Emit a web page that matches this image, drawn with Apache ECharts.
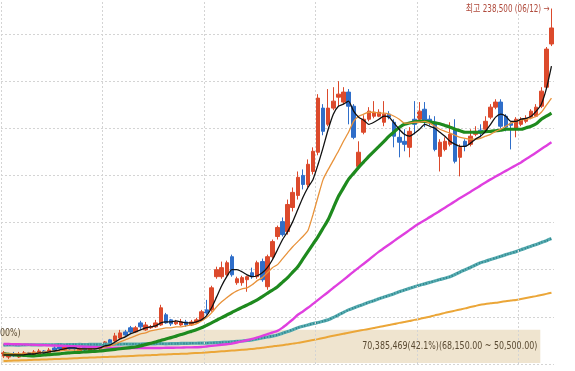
<!DOCTYPE html>
<html><head><meta charset="utf-8">
<script src="https://cdn.jsdelivr.net/npm/echarts@6/dist/echarts.min.js"></script>
<style>html,body{margin:0;padding:0;background:#fff;overflow:hidden}#c{width:575px;height:371px}</style>
</head><body><div id="c"></div>
<script>
// prices in thousand won: [open, close, low, high]
const ohlc = [
[54.3,55.9,53.2,56.9],[53.7,55.3,52.7,55.9],[55.3,54.3,53.7,56.4],[53.7,55.3,53.2,56.4],[54.3,55.9,53.7,56.9],
[55.9,54.8,53.7,56.4],[54.8,56.4,54.3,57.4],[55.3,56.9,54.8,58.0],[56.9,55.9,54.8,57.4],[55.9,57.4,55.3,58.5],
[58.5,57.4,56.4,59.6],[59.0,58.0,56.9,60.1],[57.4,59.0,56.9,60.1],[59.6,58.0,57.4,60.1],[59.0,58.0,56.9,60.1],
[56.9,58.5,56.4,59.0],[59.0,57.4,56.4,59.6],[56.9,58.5,56.4,59.0],[59.0,58.0,56.9,59.6],[58.0,59.6,57.4,60.1],
[59.0,61.7,58.5,62.2],[62.8,61.2,60.1,63.3],[62.2,64.9,61.7,66.5],[63.8,66.5,63.3,68.1],[67.0,65.4,64.4,68.1],
[69.2,67.0,66.0,70.2],[67.0,69.2,66.5,70.2],[71.8,69.7,68.6,72.9],[68.1,70.7,67.6,72.3],[69.2,69.7,68.6,70.7],
[69.7,71.8,69.2,73.4],[70.7,79.8,70.2,81.4],[76.1,71.8,71.3,77.1],[73.4,71.3,70.2,73.9],[71.3,72.3,70.7,73.4],
[70.7,72.3,70.2,73.9],[72.3,70.7,69.7,73.4],[70.7,72.3,70.2,73.4],[71.8,73.4,71.3,74.5],[73.4,77.7,72.9,78.7],
[78.7,77.1,76.1,84.0],[78.7,90.4,77.7,91.5],[96.3,100.0,95.2,101.6],[96.3,101.1,95.2,104.3],[97.3,103.7,96.8,104.8],
[106.9,97.3,96.3,108.0],[93.1,95.2,92.0,96.3],[93.1,95.8,91.5,96.8],[94.7,96.3,88.3,96.8],[98.4,96.3,95.2,101.1],
[96.3,103.7,95.2,104.8],[104.3,94.7,93.6,105.9],[91.0,106.9,89.4,108.0],[106.9,114.9,105.9,116.0],[117.6,122.4,116.0,123.4],
[125.5,118.6,117.6,127.7],[120.2,134.6,118.6,137.2],[133.0,141.0,130.9,143.6],[139.4,149.0,137.2,152.1],[150.0,145.2,142.6,153.2],
[145.2,155.9,143.6,158.5],[152.1,162.8,150.5,164.9],[162.3,191.0,160.7,193.1],[185.7,173.4,171.3,187.8],[177.1,185.7,176.1,195.8],
[185.7,189.4,184.6,196.8],[191.5,193.1,186.7,200.0],[188.9,194.2,187.8,196.8],[194.2,186.7,177.1,195.8],[186.7,170.2,169.2,187.8],
[154.8,162.3,153.2,168.1],[172.9,179.8,171.8,181.9],[179.8,184.1,178.7,186.2],[181.4,183.5,180.3,189.4],[181.4,183.5,180.9,185.1],
[178.2,182.5,176.1,189.4],[182.5,180.9,179.8,184.1],[178.2,170.8,164.9,179.8],[170.2,167.6,159.6,176.1],[168.1,166.5,162.8,174.5],
[164.9,173.4,159.6,175.6],[179.8,177.1,171.8,189.4],[179.8,184.1,178.7,188.9],[185.1,178.7,175.6,188.9],[179.8,178.2,176.6,181.9],
[178.2,163.8,162.8,181.4],[160.1,167.6,152.1,169.2],[163.8,168.1,162.8,170.2],[166.5,171.8,165.4,178.2],[174.5,157.5,156.4,179.8],
[159.6,164.9,149.5,166.5],[168.1,165.4,162.8,169.2],[166.5,170.8,165.4,174.5],[171.8,173.4,170.8,176.1],[174.0,172.4,170.2,177.1],
[174.5,178.7,173.4,181.4],[180.9,186.2,179.8,187.8],[186.2,188.9,185.1,190.4],[188.9,176.1,175.0,190.4],[181.4,175.6,173.4,182.5],
[177.7,176.6,163.8,178.2],[174.5,179.8,170.2,180.9],[177.1,179.8,176.1,180.9],[178.7,180.3,177.7,181.9],[180.9,184.1,179.8,185.1],
[181.4,186.2,180.9,187.8],[186.7,194.7,185.7,196.8],[196.8,217.0,195.8,218.1],[219.7,228.2,218.6,238.5]
];
const ma5 = [
54.8,54.8,54.8,54.8,54.8,55.3,55.3,55.9,55.9,56.4,
56.9,57.4,58.0,58.5,58.5,58.0,58.0,58.0,58.0,58.5,
59.6,60.1,61.7,63.3,64.4,66.0,67.0,68.1,69.2,69.7,
70.2,71.8,72.3,72.3,72.9,72.3,71.8,71.8,72.3,73.4,
75.5,79.8,85.6,91.5,96.3,100.0,100.0,98.9,97.3,96.3,
96.8,98.4,101.1,105.3,110.6,116.0,120.2,125.5,131.9,138.3,
143.6,147.9,155.9,164.9,174.5,182.5,186.7,187.8,189.4,184.1,
180.9,179.3,177.1,178.2,179.8,181.4,180.9,177.7,174.5,171.8,
170.8,172.4,174.5,177.1,176.1,175.0,172.9,170.8,168.1,166.5,
165.4,165.4,167.0,169.2,170.8,173.4,177.1,180.9,182.5,181.4,
178.7,178.7,179.8,180.3,181.4,184.1,187.8,196.0,208.0
];
const ma10 = [
55.3,55.3,55.3,55.3,55.3,55.9,55.9,55.9,56.4,56.4,
56.9,56.9,57.4,57.4,57.4,57.4,58.0,58.0,58.0,58.5,
59.0,59.6,60.6,61.7,62.8,63.8,64.9,66.0,66.5,67.6,
68.1,68.6,69.2,69.2,69.7,69.7,70.2,70.7,71.3,72.9,
74.5,77.1,80.3,83.0,85.1,87.2,88.8,89.9,90.4,92.0,
94.2,95.8,98.4,101.1,102.7,105.9,109.1,112.2,114.9,117.6,
120.8,129.3,138.8,147.9,153.2,158.0,162.8,168.1,172.9,178.7,
181.4,182.5,183.5,183.5,183.0,183.0,182.5,181.4,179.8,177.7,
177.7,178.2,178.2,178.7,177.7,176.1,174.5,173.4,172.4,171.3,
170.2,169.7,169.2,169.2,169.7,170.8,171.8,173.4,174.5,176.1,
177.7,178.7,179.3,179.8,180.3,181.4,183.5,187.3,191.0
];
const ma20 = [
55.3,55.1,54.9,54.7,54.6,54.4,54.3,54.5,54.8,55.0,
55.2,55.4,55.7,55.9,56.1,56.2,56.4,56.6,56.7,56.9,
57.2,57.5,57.8,58.1,58.4,58.7,59.0,59.6,60.3,61.0,
61.7,62.5,63.3,64.0,64.8,65.6,66.4,67.3,68.2,69.2,
70.5,71.8,73.2,74.6,76.0,77.3,78.7,80.0,81.3,82.6,
84.0,85.7,87.5,89.2,91.0,93.4,95.8,98.7,101.6,105.6,
109.6,113.6,117.6,122.1,126.6,132.7,138.8,143.4,147.9,151.1,
154.3,157.2,160.1,162.8,165.4,168.1,170.8,173.2,175.4,177.1,
177.8,178.4,178.7,178.7,178.4,177.9,177.4,176.5,175.6,174.5,
173.7,172.9,172.9,172.9,172.9,173.2,173.4,173.7,174.0,174.5,
174.5,174.5,174.5,175.3,176.1,177.4,179.8,181.4,183.0
];
const ma60 = [
60.6,60.6,60.5,60.5,60.4,60.3,60.2,60.1,60.0,59.9,
59.8,59.7,59.6,59.5,59.4,59.3,59.2,59.1,59.0,58.9,
58.8,58.7,58.6,58.6,58.5,58.5,58.5,58.5,58.5,58.5,
58.5,58.5,58.6,58.6,58.7,58.7,58.8,58.8,58.9,59.0,
59.3,59.6,59.9,60.2,60.5,60.8,61.4,62.0,62.6,63.3,
64.1,64.9,65.8,66.7,67.6,69.3,71.4,73.6,76.1,77.9,
79.8,81.9,84.0,86.1,88.2,90.4,92.5,94.6,96.8,99.0,
101.1,103.2,105.3,107.5,109.6,111.5,113.4,115.3,117.2,119.1,
121.0,122.9,124.6,126.2,127.9,129.5,131.2,132.9,134.6,136.3,
138.0,139.6,141.2,142.9,144.6,146.3,147.9,149.4,150.9,152.4,
153.9,155.4,156.9,158.7,160.4,162.2,164.0,165.8,167.6
];
const ma120 = [
60.0,60.1,60.1,60.0,60.1,60.2,60.1,60.1,60.2,60.2,
60.2,60.3,60.2,60.3,60.3,60.4,60.3,60.4,60.4,60.4,
60.5,60.4,60.5,60.5,60.6,60.5,60.6,60.6,60.7,60.6,
60.7,60.8,60.7,60.8,60.8,60.9,60.9,61.0,61.0,61.1,
61.1,61.2,61.3,61.5,61.6,61.8,62.0,62.2,62.5,62.8,
63.3,63.8,64.3,64.8,65.4,66.3,67.2,68.2,69.2,70.0,
70.7,71.4,72.0,72.7,73.4,74.7,76.0,77.4,78.7,79.7,
80.7,81.7,82.7,83.6,84.6,85.5,86.4,87.3,88.3,89.2,
90.1,91.0,91.8,92.5,93.3,94.0,94.8,95.5,96.3,97.5,
98.8,100.0,101.2,102.5,103.7,104.5,105.4,106.2,107.1,108.0,
108.8,109.6,110.6,111.5,112.5,113.4,114.4,115.4,116.5
];
const ma240 = [
51.6,51.7,51.8,51.9,52.0,52.1,52.2,52.3,52.4,52.5,
52.6,52.7,52.8,52.9,53.0,53.2,53.3,53.4,53.5,53.6,
53.7,53.8,53.9,54.0,54.1,54.2,54.4,54.5,54.6,54.7,
54.8,55.0,55.1,55.2,55.3,55.4,55.5,55.7,55.8,55.9,
56.1,56.3,56.5,56.7,56.9,57.1,57.3,57.5,57.7,58.0,
58.3,58.6,59.0,59.3,59.7,60.0,60.4,60.8,61.2,61.7,
62.2,62.7,63.2,63.8,64.4,65.0,65.5,66.0,66.6,67.1,
67.6,68.1,68.6,69.1,69.6,70.2,70.7,71.2,71.8,72.3,
72.8,73.4,73.9,74.5,75.1,75.8,76.4,77.1,77.7,78.3,
78.9,79.5,80.2,80.8,81.4,81.8,82.2,82.5,82.9,83.3,
83.7,84.0,84.5,85.0,85.5,86.0,86.6,87.2,87.8
];
const monthStartIdx = [0, 20, 40, 62, 82, 102];
const yMin = 50, yMax = 250, yInterval = 25;
const peakIdx = 108, peakValue = 238.5, peakLabel = '최고 238,500 (06/12) →';
const bandHigh = 68.15, bandLow = 50.5, bandStartPos = -0.5, bandEndPos = 105.8;
const bandLabel = '70,385,469(42.1%)(68,150.00 ~ 50,500.00)';
const leftBandLabel = '00%)';

const categories = ohlc.map((_, i) => 'd' + i);
const dotted = { color: '#d4d4d4', type: [2, 2], width: 1 };
const textFont = "'DejaVu Sans Condensed','Liberation Sans Narrow','Noto Sans CJK KR',sans-serif";

function maLine(name, data, color, width, z, extra) {
  return Object.assign({
    type: 'line', name, data, symbol: 'none', showSymbol: false, smooth: 0.2,
    silent: true, z, lineStyle: { color, width }
  }, extra || {});
}

const chart = echarts.init(document.getElementById('c'));
chart.setOption({
  animation: false,
  backgroundColor: '#ffffff',
  grid: { left: 1, right: 21, top: -13.14, bottom: 7, outerBoundsMode: 'none', containLabel: false },
  xAxis: [{
    type: 'category', data: categories, boundaryGap: true,
    axisLine: { show: false }, axisTick: { show: false }, axisLabel: { show: false },
    splitLine: { show: false }
  }, {
    type: 'value', show: false, min: -0.5, max: ohlc.length - 0.5,
    splitLine: { show: false }
  }],
  yAxis: {
    type: 'value', min: yMin, max: yMax, interval: yInterval,
    axisLine: { show: false }, axisTick: { show: false }, axisLabel: { show: false },
    splitLine: { show: true, lineStyle: dotted }
  },
  series: [
    {
      type: 'line', xAxisIndex: 1, data: [], z: 1, silent: true,
      markLine: {
        silent: true, symbol: 'none', label: { show: false }, lineStyle: dotted,
        data: monthStartIdx.map(k => ({ xAxis: k - 0.5 }))
      },
      markArea: {
        silent: true,
        itemStyle: { color: '#efe4cf' },
        data: [[{ xAxis: bandStartPos, yAxis: bandHigh }, { xAxis: bandEndPos, yAxis: bandLow }]]
      }
    },
    {
      type: 'candlestick', data: ohlc, barWidth: 4, z: 3,
      itemStyle: { color: '#dc4a2c', color0: '#2f6ec9', borderColor: '#dc4a2c', borderColor0: '#2f6ec9', borderWidth: 1 }
    },
    maLine('MA240', ma240, '#eba638', 2, 4),
    maLine('MA120', ma120, '#58adb2', 3.2, 4),
    maLine('MA120t', ma120, '#2b8088', 2, 4, { lineStyle: { color: '#2b8088', width: 2, type: [1, 2] } }),
    maLine('MA60', ma60, '#df3fdf', 2.4, 5),
    maLine('MA20', ma20, '#1e8a1e', 3.2, 6),
    maLine('MA10', ma10, '#e8923a', 1.3, 7),
    maLine('MA5', ma5, '#111111', 1.3, 8)
  ]
});

// text annotations anchored through the chart's own scales
const pPeak = chart.convertToPixel({ gridIndex: 0 }, [categories[peakIdx], peakValue]);
const pBandR = chart.convertToPixel({ xAxisIndex: 1, yAxisIndex: 0 }, [bandEndPos, (bandHigh + bandLow) / 2]);
const pBandTop = chart.convertToPixel({ xAxisIndex: 1, yAxisIndex: 0 }, [bandStartPos, bandHigh]);
chart.setOption({
  graphic: [
    { type: 'text', x: pPeak[0] - 2, y: pPeak[1] + 1, scaleX: 0.8, z: 20, silent: true,
      style: { text: peakLabel, fill: '#b04a3c', font: '10px ' + textFont, textAlign: 'right', textVerticalAlign: 'middle' } },
    { type: 'text', x: pBandR[0] - 3, y: pBandR[1], scaleX: 0.8, z: 20, silent: true,
      style: { text: bandLabel, fill: '#5a4a32', font: '11px ' + textFont, textAlign: 'right', textVerticalAlign: 'middle' } },
    { type: 'text', x: 0, y: pBandTop[1] + 3, scaleX: 0.8, z: 20, silent: true,
      style: { text: leftBandLabel, fill: '#5a4a32', font: '11px ' + textFont, textAlign: 'left', textVerticalAlign: 'middle' } }
  ]
});
</script>
</body></html>
